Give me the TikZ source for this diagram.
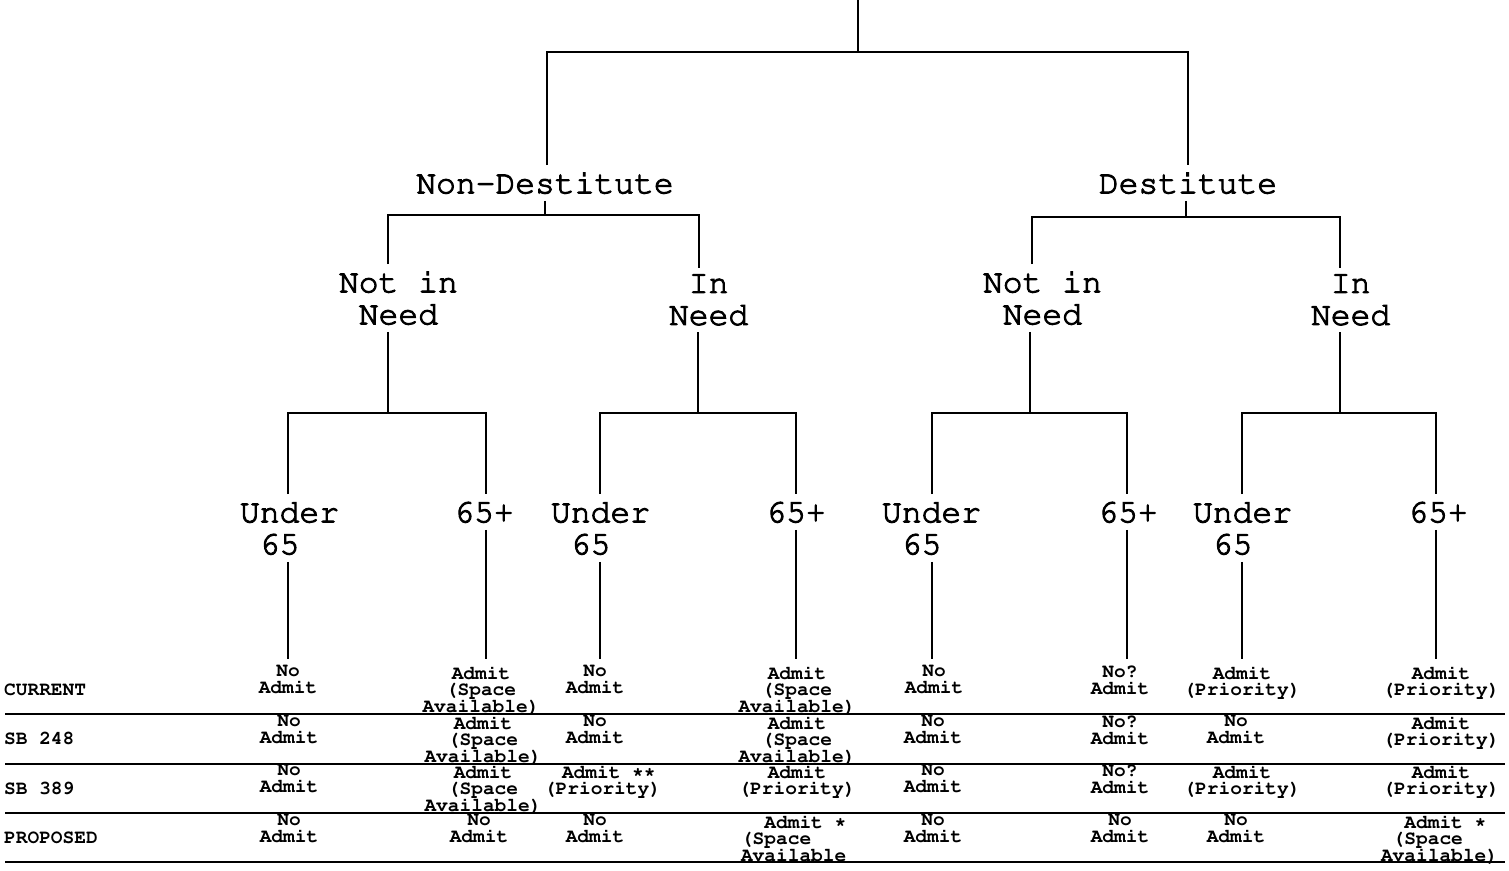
\documentclass[tikz,border=0pt]{standalone}
\usepackage[T1]{fontenc}
\newcommand\bigf{\fontencoding{T1}\fontfamily{pcr}\fontseries{m}\fontshape{n}\fontsize{33}{32}\selectfont}
\newcommand\tabf{\fontencoding{T1}\fontfamily{pcr}\fontseries{b}\fontshape{n}\fontsize{19.5}{16.5}\selectfont}
\newcommand\heavyon{\special{pdf:literal direct 2 Tr 1.0 w}}
\newcommand\heavyoff{\special{pdf:literal direct 0 Tr}}
\begin{document}
\lineskiplimit=-30pt
\tikzset{
  tl/.style={line width=2pt},
  rulel/.style={line width=2.6pt},
  big/.style={font=\bigf, inner sep=0pt, outer xsep=0pt, outer ysep=7pt},
  cell/.style={font=\tabf, inner sep=0pt, outer xsep=0pt, outer ysep=7pt, align=center, anchor=north},
  rowlab/.style={font=\tabf, inner sep=0pt, anchor=west},
}
\begin{tikzpicture}[x=1pt,y=-1pt]
\useasboundingbox (0,0) rectangle (1509,870);
% ---------- text nodes of the tree ----------
\node[big] (nd) at (545,183) {\heavyon Non-Destitute\heavyoff};
\node[big] (de) at (1188,183) {\heavyon Destitute\heavyoff};
\node[big,align=left,anchor=west] (ndn) at (339,298) {\heavyon Not in\\\hphantom{N}Need\heavyoff};
\node[big,align=left,anchor=west] (ndi) at (669,300) {\heavyon\hphantom{N}In\\Need\heavyoff};
\node[big,align=left,anchor=west] (dn) at (983,298) {\heavyon Not in\\\hphantom{N}Need\heavyoff};
\node[big,align=left,anchor=west] (di) at (1311,300) {\heavyon\hphantom{N}In\\Need\heavyoff};
\node[big,align=left,anchor=west] (u1) at (240,528) {\heavyon Under\\\hphantom{N}65\heavyoff};
\node[big,align=left,anchor=west] (u2) at (551,528) {\heavyon Under\\\hphantom{N}65\heavyoff};
\node[big,align=left,anchor=west] (u3) at (882,528) {\heavyon Under\\\hphantom{N}65\heavyoff};
\node[big,align=left,anchor=west] (u4) at (1193,528) {\heavyon Under\\\hphantom{N}65\heavyoff};
\node[big] (p1) at (484,512) {\heavyon 65+\heavyoff};
\node[big] (p2) at (796,512) {\heavyon 65+\heavyoff};
\node[big] (p3) at (1128,512) {\heavyon 65+\heavyoff};
\node[big] (p4) at (1438,512) {\heavyon 65+\heavyoff};
% ---------- row labels ----------
\node[rowlab] (lcur) at (4,690) {CURRENT};
\node[rowlab] (l248) at (4,739) {SB 248};
\node[rowlab] (l389) at (4,789) {SB 389};
\node[rowlab] (lpro) at (4,838) {PROPOSED};
% ---------- cells: CURRENT ----------
\node[cell] (c11) at (288,659) {No\\Admit};
\node[cell] (c12) at (481,659) {Admit\\(Space\\Available)};
\node[cell] (c13) at (595,659) {No\\Admit};
\node[cell] (c14) at (797,659) {Admit\\(Space\\Available)};
\node[cell] (c15) at (934,659) {No\\Admit};
\node[cell] (c16) at (1120,659) {No?\\Admit};
\node[cell] (c17) at (1242,659) {Admit\\(Priority)};
\node[cell] (c18) at (1441,659) {Admit\\(Priority)};
% ---------- cells: SB 248 ----------
\node[cell] (c21) at (289,709) {No\\Admit};
\node[cell] (c22) at (483,709) {Admit\\(Space\\Available)};
\node[cell] (c23) at (595,709) {No\\Admit};
\node[cell] (c24) at (797,709) {Admit\\(Space\\Available)};
\node[cell] (c25) at (933,709) {No\\Admit};
\node[cell] (c26) at (1120,709) {No?\\Admit};
\node[cell] (c27) at (1236,709) {No\\Admit};
\node[cell] (c28) at (1441,709) {Admit\\(Priority)};
% ---------- cells: SB 389 ----------
\node[cell] (c31) at (289,758) {No\\Admit};
\node[cell] (c32) at (483,758) {Admit\\(Space\\Available)};
\node[cell,align=left,anchor=north west] (c33) at (544,758) {\hspace*{18pt}Admit **\\(Priority)};
\node[cell] (c34) at (797,758) {Admit\\(Priority)};
\node[cell] (c35) at (933,758) {No\\Admit};
\node[cell] (c36) at (1120,758) {No?\\Admit};
\node[cell] (c37) at (1242,758) {Admit\\(Priority)};
\node[cell] (c38) at (1441,758) {Admit\\(Priority)};
% ---------- cells: PROPOSED ----------
\node[cell] (c41) at (289,808) {No\\Admit};
\node[cell] (c42) at (479,808) {No\\Admit};
\node[cell] (c43) at (595,808) {No\\Admit};
\node[cell,align=left,anchor=north west] (c44) at (741,808) {\hphantom{NN}Admit *\\(Space\\Available};
\node[cell] (c45) at (933,808) {No\\Admit};
\node[cell] (c46) at (1120,808) {No\\Admit};
\node[cell] (c47) at (1236,808) {No\\Admit};
\node[cell,align=left,anchor=north west] (c48) at (1381,808) {\hphantom{NN}Admit *\\\hphantom{N}(Space\\Available)};
% ---------- joints ----------
\coordinate (top) at (858,0);
\coordinate (j0) at (858,52);  \coordinate (b0l) at (547,52);  \coordinate (b0r) at (1188,52);
\coordinate (j1) at (545,215); \coordinate (b1l) at (388,215); \coordinate (b1r) at (699,215);
\coordinate (j2) at (1186,217);\coordinate (b2l) at (1032,217);\coordinate (b2r) at (1340,217);
\coordinate (j3) at (388,413); \coordinate (b3l) at (288,413); \coordinate (b3r) at (486,413);
\coordinate (j4) at (698,413); \coordinate (b4l) at (600,413); \coordinate (b4r) at (796,413);
\coordinate (j5) at (1030,413);\coordinate (b5l) at (932,413); \coordinate (b5r) at (1127,413);
\coordinate (j6) at (1340,413);\coordinate (b6l) at (1242,413);\coordinate (b6r) at (1436,413);
% ---------- connectors ----------
\draw[tl] (top) -- (j0);
\draw[tl] (b0l |- nd.north) -- (b0l) -- (b0r) -- (b0r |- de.north);
\draw[tl] (j1 |- nd.south) -- (j1);
\draw[tl] (b1l |- ndn.north) -- (b1l) -- (b1r) -- (b1r |- ndi.north);
\draw[tl] (j2 |- de.south) -- (j2);
\draw[tl] (b2l |- dn.north) -- (b2l) -- (b2r) -- (b2r |- di.north);
\draw[tl] (j3 |- ndn.south) -- (j3);
\draw[tl] (j4 |- ndi.south) -- (j4);
\draw[tl] (j5 |- dn.south) -- (j5);
\draw[tl] (j6 |- di.south) -- (j6);
\draw[tl] (b3l |- u1.north) -- (b3l) -- (b3r) -- (b3r |- p1.north);
\draw[tl] (b4l |- u2.north) -- (b4l) -- (b4r) -- (b4r |- p2.north);
\draw[tl] (b5l |- u3.north) -- (b5l) -- (b5r) -- (b5r |- p3.north);
\draw[tl] (b6l |- u4.north) -- (b6l) -- (b6r) -- (b6r |- p4.north);
\draw[tl] (b3l |- u1.south) -- (b3l |- c11.north);
\draw[tl] (b3r |- p1.south) -- (b3r |- c12.north);
\draw[tl] (b4l |- u2.south) -- (b4l |- c13.north);
\draw[tl] (b4r |- p2.south) -- (b4r |- c14.north);
\draw[tl] (b5l |- u3.south) -- (b5l |- c15.north);
\draw[tl] (b5r |- p3.south) -- (b5r |- c16.north);
\draw[tl] (b6l |- u4.south) -- (b6l |- c17.north);
\draw[tl] (b6r |- p4.south) -- (b6r |- c18.north);
% ---------- table rules ----------
\coordinate (r1a) at (5,714); \coordinate (r1b) at (1505,714);
\coordinate (r2a) at (5,764); \coordinate (r2b) at (1505,764);
\coordinate (r3a) at (5,813); \coordinate (r3b) at (1505,813);
\coordinate (r4a) at (5,862); \coordinate (r4b) at (1505,862);
\draw[rulel] (r1a) -- (r1b);
\draw[rulel] (r2a) -- (r2b);
\draw[rulel] (r3a) -- (r3b);
\draw[rulel] (r4a) -- (r4b);
\end{tikzpicture}
\end{document}
